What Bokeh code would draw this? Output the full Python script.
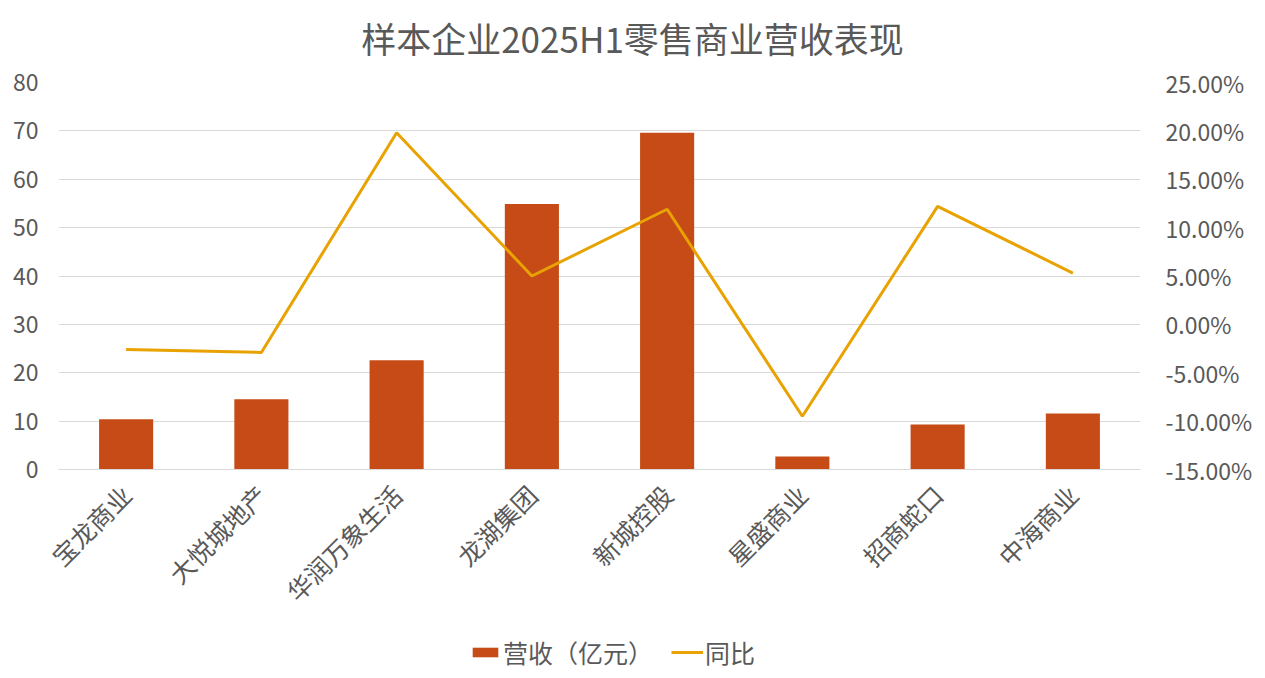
import math
from bokeh.plotting import figure
from bokeh.layouts import column
from bokeh.core.properties import value
from bokeh.models import (ColumnDataSource, FactorRange, Range1d, LinearAxis, FixedTicker,
                          NumeralTickFormatter, Legend, LegendItem)
from bokeh.embed import file_html
from bokeh.resources import INLINE

title_text = "样本企业2025H1零售商业营收表现"
categories = ["宝龙商业", "大悦城地产", "华润万象生活", "龙湖集团", "新城控股", "星盛商业", "招商蛇口", "中海商业"]
revenue = [10.4, 14.5, 22.6, 54.9, 69.6, 2.7, 9.3, 11.6]
yoy = [-0.026, -0.029, 0.198, 0.050, 0.119, -0.095, 0.122, 0.053]
left_ticks = [0, 10, 20, 30, 40, 50, 60, 70, 80]
right_ticks = [-0.15, -0.10, -0.05, 0.0, 0.05, 0.10, 0.15, 0.20, 0.25]

FONT = "Noto Sans CJK SC"
TXT = "#595959"
BAR = "#C64B16"
LINE = "#E8A202"

# title strip (frame aligned with the chart's frame)
tt = figure(width=1257, height=64, x_range=Range1d(0, 1), y_range=Range1d(0, 1),
            output_backend="svg", toolbar_location=None, x_axis_location=None,
            y_axis_location=None, min_border=0)
tt.outline_line_color = None
tt.grid.visible = False
tt.text(x=[0.5305], y=[(64 - 37) / 64], text=[title_text], text_font=value(FONT),
        text_font_size="35px", text_color=TXT, text_align="center", text_baseline="middle")

src = ColumnDataSource(dict(cat=categories, rev=revenue, yoy=yoy))

p = figure(width=1257, height=564, x_range=FactorRange(*categories, range_padding=0),
           y_range=Range1d(0, 80), output_backend="svg", toolbar_location=None,
           min_border_left=58, min_border_right=117, min_border_top=18, min_border_bottom=159)
p.outline_line_color = None
p.background_fill_color = "white"
p.border_fill_color = "white"

p.extra_y_ranges = {"pct": Range1d(-0.15, 0.25)}

bars = p.vbar(x="cat", top="rev", width=0.4, source=src, fill_color=BAR, line_color=None)
line = p.line(x="cat", y="yoy", source=src, y_range_name="pct", line_color=LINE, line_width=3)

la = p.yaxis[0]
la.ticker = FixedTicker(ticks=left_ticks)
la.axis_line_color = None
la.major_tick_line_color = None
la.minor_tick_line_color = None
la.major_label_text_font = FONT
la.major_label_text_font_size = "23px"
la.major_label_text_color = TXT
la.major_label_standoff = 14

ra = LinearAxis(y_range_name="pct", ticker=FixedTicker(ticks=right_ticks),
                formatter=NumeralTickFormatter(format="0.00%"))
ra.axis_line_color = None
ra.major_tick_line_color = None
ra.minor_tick_line_color = None
ra.major_label_text_font = FONT
ra.major_label_text_font_size = "23px"
ra.major_label_text_color = TXT
ra.major_label_standoff = 19
p.add_layout(ra, "right")

xa = p.xaxis[0]
xa.axis_line_color = "#D9D9D9"
xa.major_tick_line_color = None
xa.minor_tick_line_color = None
xa.major_label_orientation = math.pi / 4
xa.major_label_text_font = FONT
xa.major_label_text_font_size = "25px"
xa.major_label_text_color = TXT
xa.major_label_standoff = 14

p.xgrid.grid_line_color = None
p.ygrid.grid_line_color = "#D9D9D9"
p.ygrid.grid_line_width = 1
p.ygrid.ticker = FixedTicker(ticks=left_ticks)

# legend strip below the chart (frames are aligned with the chart's frame)
lg = figure(width=1257, height=42, x_range=Range1d(0, 1), y_range=Range1d(0, 1),
            output_backend="svg", toolbar_location=None, x_axis_location=None,
            y_axis_location=None, min_border=0)
lg.outline_line_color = None
lg.grid.visible = False
lg_bar = lg.vbar(x=[-100], top=[-100], bottom=[-200], width=0.4, fill_color=BAR, line_color=None)
lg_line = lg.line(x=[-100, -99], y=[-100, -100], line_color=LINE, line_width=3)
legend = Legend(items=[LegendItem(label="营收（亿元）", renderers=[lg_bar]),
                       LegendItem(label="同比", renderers=[lg_line])],
                orientation="horizontal", location=(411, 0),
                label_text_font=FONT, label_text_font_size="25px", label_text_color=TXT,
                glyph_width=32, glyph_height=12, label_standoff=2, spacing=18,
                padding=0, margin=0, border_line_color=None, background_fill_alpha=0)
lg.add_layout(legend, "center")

open("out.html", "w").write(file_html(column(tt, p, lg, spacing=0), INLINE))
